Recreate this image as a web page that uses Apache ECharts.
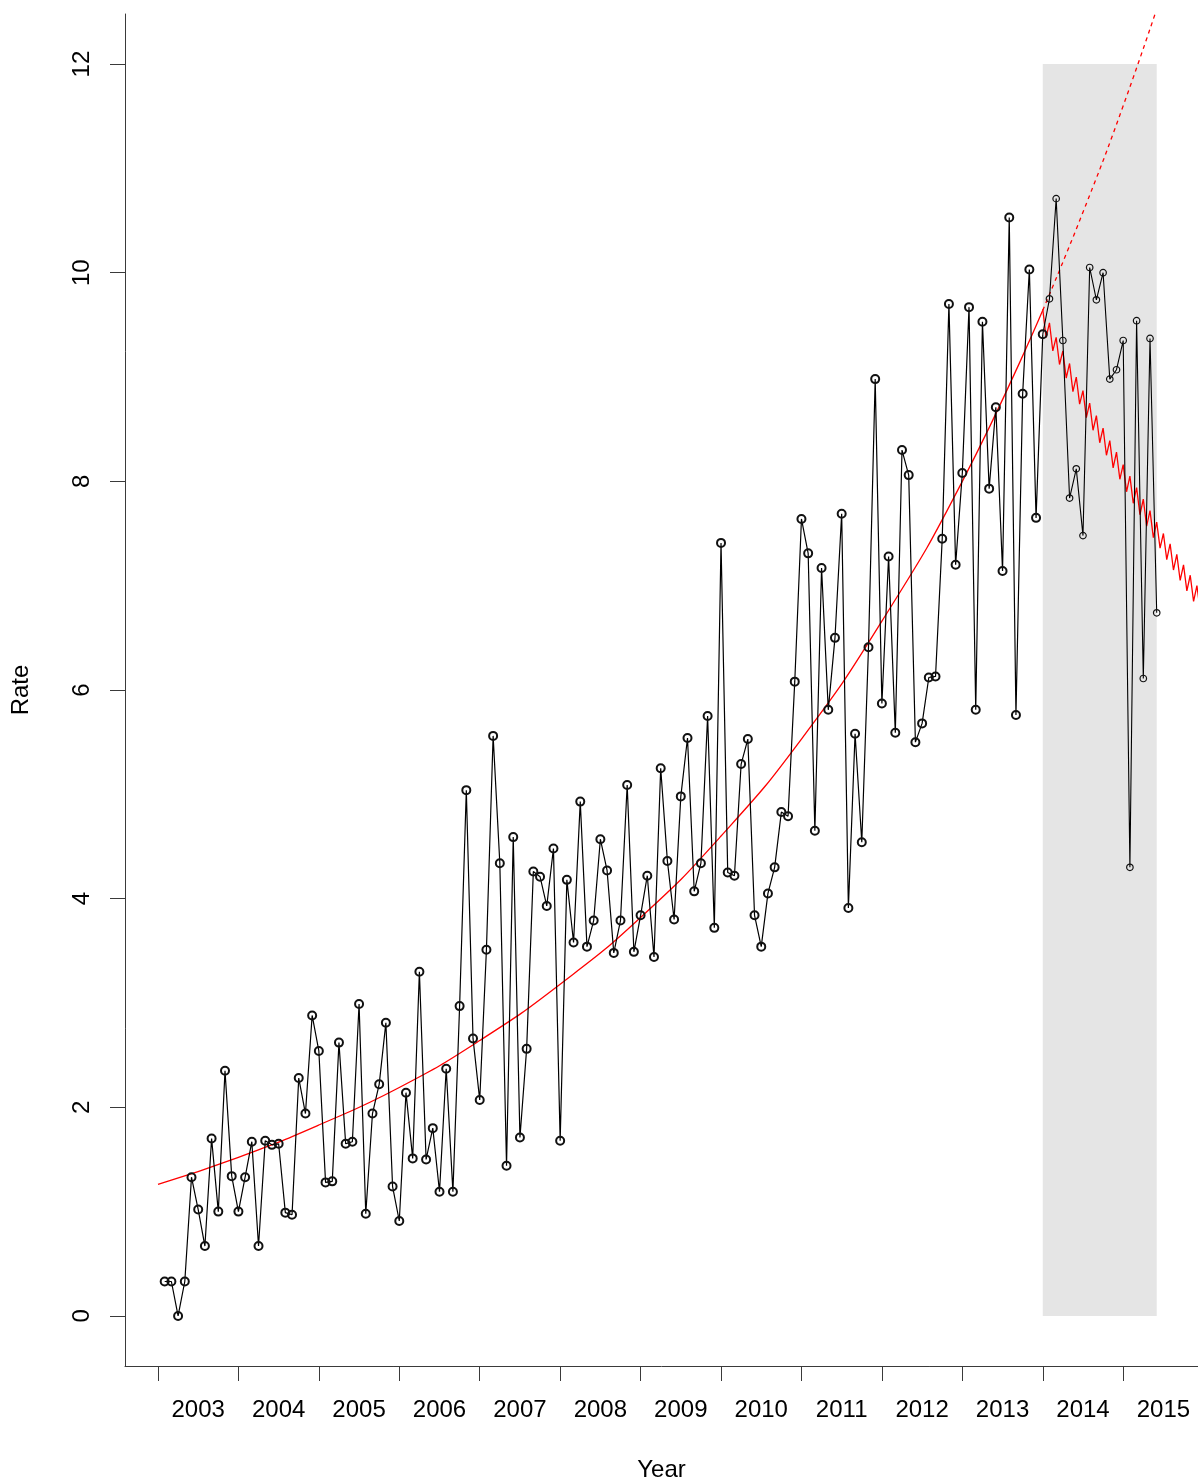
<!DOCTYPE html>
<html>
<head>
<meta charset="utf-8">
<title>Rate by Year</title>
<script src="https://cdn.jsdelivr.net/npm/echarts@6/dist/echarts.min.js"></script>
<style>
  html, body { margin: 0; padding: 0; background: #ffffff; }
  #chart { width: 1198px; height: 1483px; }
</style>
</head>
<body>
<div id="chart"></div>
<script>
// Monthly rate, Feb 2003 .. Jun 2015
const rate = [
  0.33, 0.33, 0.00, 0.33, 1.33, 1.02, 0.67, 1.70, 1.00, 2.35, 1.34, 1.00,
  1.33, 1.67, 0.67, 1.68, 1.64, 1.65, 0.99, 0.97, 2.28, 1.94, 2.88, 2.54,
  1.28, 1.29, 2.62, 1.65, 1.67, 2.99, 0.98, 1.94, 2.22, 2.81, 1.24, 0.91,
  2.14, 1.51, 3.30, 1.50, 1.80, 1.19, 2.37, 1.19, 2.97, 5.04, 2.66, 2.07,
  3.51, 5.56, 4.34, 1.44, 4.59, 1.71, 2.56, 4.26, 4.21, 3.93, 4.48, 1.68,
  4.18, 3.58, 4.93, 3.54, 3.79, 4.57, 4.27, 3.48, 3.79, 5.09, 3.49, 3.84,
  4.22, 3.44, 5.25, 4.36, 3.80, 4.98, 5.54, 4.07, 4.34, 5.75, 3.72, 7.41,
  4.25, 4.22, 5.29, 5.53, 3.84, 3.54, 4.05, 4.30, 4.83, 4.79, 6.08, 7.64,
  7.31, 4.65, 7.17, 5.81, 6.50, 7.69, 3.91, 5.58, 4.54, 6.41, 8.98, 5.87,
  7.28, 5.59, 8.30, 8.06, 5.50, 5.68, 6.12, 6.13, 7.45, 9.70, 7.20, 8.08,
  9.67, 5.81, 9.53, 7.93, 8.71, 7.14, 10.53, 5.76, 8.84, 10.03, 7.65, 9.41,
  9.75, 10.71, 9.35, 7.84, 8.12, 7.48, 10.05, 9.74, 10.00, 8.98, 9.07, 9.35,
  4.30, 9.54, 6.11, 9.37, 6.74
];

// Exponential trend fitted on the training window (yearly read-outs)
const trendYears  = [2003, 2004, 2005, 2006, 2007, 2008, 2009, 2010, 2011, 2012, 2013, 2014];
const trendValues = [1.26, 1.52, 1.83, 2.19, 2.64, 3.18, 3.82, 4.60, 5.53, 6.66, 8.00, 9.64];

// Same trend extrapolated over the hold-out period
const extYears  = [2014, 2014.5, 2015, 2015.5];
const extValues = [9.64, 10.58, 11.60, 12.72];

// Forecast path: value at each month start and at each mid-month
const fcPeaks = [
  9.65, 9.52, 9.38, 9.25, 9.13, 9.00, 8.87, 8.75, 8.63, 8.51, 8.39, 8.28,
  8.16, 8.05, 7.94, 7.83, 7.72, 7.61, 7.50, 7.40, 7.30, 7.20, 7.10, 7.00
];
const fcValleys = [
  9.38, 9.25, 9.12, 8.99, 8.86, 8.74, 8.61, 8.49, 8.37, 8.25, 8.13, 8.02,
  7.90, 7.79, 7.68, 7.57, 7.46, 7.36, 7.25, 7.15, 7.05, 6.95, 6.85, 6.75
];

// Hold-out window (shaded) and axis ticks
const holdout = { from: 2014, to: 2015 + 5 / 12, low: 0, high: 12 };
const yTicks = [0, 2, 4, 6, 8, 10, 12];
const yearTicks = [2003, 2004, 2005, 2006, 2007, 2008, 2009, 2010, 2011, 2012, 2013, 2014, 2015];

// ---- build series data ----
const times = rate.map((_, i) => 2003 + (i + 1) / 12);
const splitIdx = times.findIndex(t => t >= 2014 - 1e-9);   // Jan 2014

const trainData = [];
for (let i = 0; i <= splitIdx; i++) trainData.push([times[i], rate[i]]);
const testData = [];
for (let i = splitIdx; i < rate.length; i++) {
  testData.push(i === splitIdx ? { value: [times[i], rate[i]], symbol: 'none' } : [times[i], rate[i]]);
}

const trendData = trendYears.map((y, i) => [y, trendValues[i]]);
const extData = extYears.map((y, i) => [y, extValues[i]]);
const fcData = [];
fcPeaks.forEach((p, i) => {
  fcData.push([2014 + i / 12, p]);
  fcData.push([2014 + (i + 0.5) / 12, fcValleys[i]]);
});
const yearLabelPos = yearTicks.map(y => y + 0.5);

const FONT = '"Liberation Sans", Arial, Helvetica, sans-serif';
const AXIS_COLOR = '#3a3a3a';

const chart = echarts.init(document.getElementById('chart'), null, { renderer: 'canvas' });
chart.setOption({
  animation: false,
  backgroundColor: '#ffffff',
  grid: {
    left: 125, right: 0, top: 14, bottom: 117,
    containLabel: false, outerBoundsMode: 'none'
  },
  xAxis: {
    type: 'value',
    min: 2002.59,
    max: 2015.93,
    name: 'Year',
    nameLocation: 'middle',
    nameGap: 92,
    nameTextStyle: { fontFamily: FONT, fontSize: 24, color: '#000' },
    splitLine: { show: false },
    axisLine: { show: true, onZero: false, lineStyle: { color: AXIS_COLOR, width: 1 } },
    axisTick: {
      show: true, inside: false, length: 15,
      customValues: yearTicks,
      lineStyle: { color: AXIS_COLOR, width: 1 }
    },
    axisLabel: {
      show: true,
      customValues: yearLabelPos,
      margin: 32,
      fontFamily: FONT, fontSize: 24, color: '#000',
      formatter: v => String(Math.floor(v))
    }
  },
  yAxis: {
    type: 'value',
    min: -0.48,
    max: 12.48,
    name: 'Rate',
    nameLocation: 'middle',
    nameRotate: 90,
    nameGap: 92,
    nameTextStyle: { fontFamily: FONT, fontSize: 24, color: '#000' },
    splitLine: { show: false },
    axisLine: { show: true, onZero: false, lineStyle: { color: AXIS_COLOR, width: 1 } },
    axisTick: {
      show: true, inside: false, length: 15,
      customValues: yTicks,
      lineStyle: { color: AXIS_COLOR, width: 1 }
    },
    axisLabel: {
      show: true,
      customValues: yTicks,
      rotate: 90,
      margin: 31,
      fontFamily: FONT, fontSize: 24, color: '#000'
    }
  },
  series: [
    {
      name: 'holdout',
      type: 'line',
      data: [],
      z: 0,
      silent: true,
      markArea: {
        silent: true,
        itemStyle: { color: '#e5e5e5' },
        data: [[
          { coord: [holdout.from, holdout.low] },
          { coord: [holdout.to, holdout.high] }
        ]]
      }
    },
    {
      name: 'trend',
      type: 'line',
      data: trendData,
      smooth: true,
      showSymbol: false,
      z: 3,
      lineStyle: { color: '#ff0000', width: 1.3 }
    },
    {
      name: 'trend extrapolated',
      type: 'line',
      data: extData,
      smooth: true,
      showSymbol: false,
      clip: true,
      z: 3,
      lineStyle: { color: '#ff0000', width: 1.3, type: [4, 4] }
    },
    {
      name: 'forecast',
      type: 'line',
      data: fcData,
      showSymbol: false,
      clip: true,
      z: 3,
      lineStyle: { color: '#ff0000', width: 1.3 }
    },
    {
      name: 'rate',
      type: 'line',
      data: trainData,
      symbol: 'circle',
      symbolSize: 8,
      showSymbol: true,
      z: 4,
      lineStyle: { color: '#000000', width: 1.2 },
      itemStyle: { color: 'rgba(0,0,0,0)', borderColor: '#111111', borderWidth: 2 }
    },
    {
      name: 'rate (hold-out)',
      type: 'line',
      data: testData,
      symbol: 'circle',
      symbolSize: 6.5,
      showSymbol: true,
      z: 4,
      lineStyle: { color: '#000000', width: 1.1 },
      itemStyle: { color: 'rgba(0,0,0,0)', borderColor: '#111111', borderWidth: 1.2 }
    }
  ]
});
</script>
</body>
</html>
